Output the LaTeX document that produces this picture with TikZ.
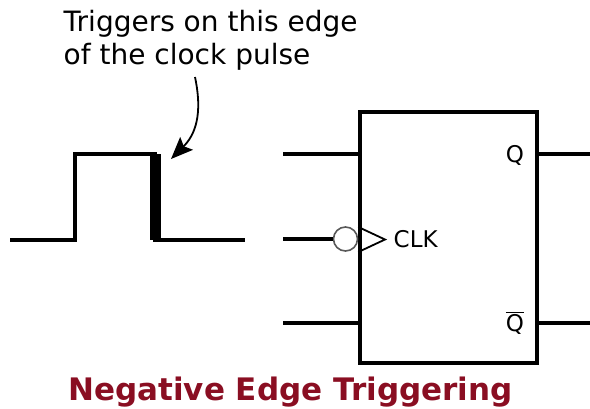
\documentclass[tikz,border=0pt]{standalone}
\usepackage{fontspec}
\setmainfont{DejaVu Sans}
\usetikzlibrary{positioning, arrows.meta}
\definecolor{titlered}{RGB}{138,14,34}

\begin{document}
\begin{tikzpicture}
[x=1pt,y=-1pt,line width=3.4pt,
                    flipflop/.style={draw,minimum width=177pt,minimum height=251pt,inner sep=0pt},
                    pin/.style={font=\fontsize{23}{28}\selectfont,inner sep=0pt},
                    bubble/.style={circle,draw=black!65,line width=1.6pt,minimum size=24pt,inner sep=0pt}]
\useasboundingbox (0,0) rectangle (590,408);

% clock pulse
\coordinate (p0) at (10,240);
\coordinate (rise) at (75,240);
\coordinate (fall) at (155,154);
\coordinate (p5) at (245,240);
\draw (p0) -- (rise) |- (fall) -- (fall |- p5) -- (p5);
\draw[line width=11pt] (fall) -- (fall |- p5);

\node[anchor=north west,align=left,inner sep=0pt,font=\fontsize{28}{33}\selectfont] (note) at (62,9)
	{Triggers on this edge\\of the clock pulse};
\coordinate (tip) at (171,159);
\draw[line width=1.8pt,-{Stealth[length=22pt,width=18pt,inset=4pt]}] (195,77) .. controls (203,115) and (195,135) .. (tip);

% flip-flop
\node[flipflop] (ff) at (448.5,237.5) {};
\node[pin,anchor=west] (clk) at (392,239) {CLK};
\node[pin] (q) at (515,155) {Q};
\node[pin] (qbar) at (515,323) {$\overline{\mbox{Q}}$};
\node[bubble,left=0pt of ff.west |- clk] (bub) {};
\draw[line width=1.8pt,line join=miter] (ff.west |- 0,227) -- (385,239.5) -- (ff.west |- 0,252);

\coordinate (d) at (283,154);
\coordinate (ck) at (283,239);
\coordinate (k) at (283,323);
\coordinate (qo) at (590,154);
\coordinate (qbo) at (590,323);
\path[draw]
	(d) -- (ff.west |- d)
	(ck) -- (bub)
	(k) -- (ff.west |- k)
	(ff.east |- qo) -- (qo)
	(ff.east |- qbo) -- (qbo);

\node[font=\bfseries\fontsize{31}{36}\selectfont,text=titlered,inner sep=0pt,anchor=base] (title) at (290.5,400)
	{Negative Edge Triggering};
\end{tikzpicture}
\end{document}
